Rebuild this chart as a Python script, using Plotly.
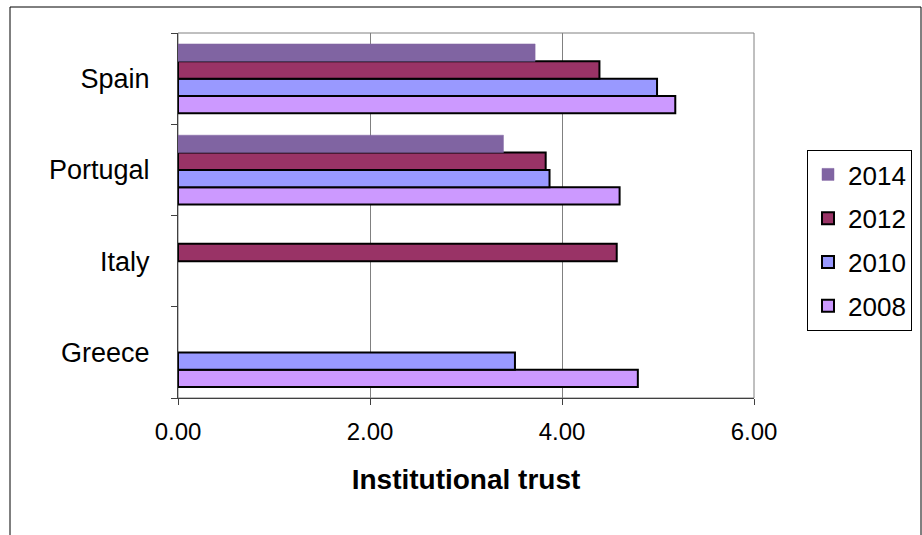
import plotly.graph_objects as go

categories = ["Greece", "Italy", "Portugal", "Spain"]
years = ["2008", "2010", "2012", "2014"]
v2008 = [4.79, None, 4.60, 5.18]
v2010 = [3.51, None, 3.87, 4.99]
v2012 = [None, 4.57, 3.83, 4.39]
v2014 = [None, None, 3.39, 3.72]
series = [v2008, v2010, v2012, v2014]
fills = ["#CC99FF", "#9999FF", "#993366", "#8064A2"]
outlines = ["#000000", "#000000", "#000000", "#8064A2"]
outline_w = [2, 2, 2, 0.5]
ranks = [4, 3, 2, 1]

FONT = "Liberation Sans, Arial, sans-serif"

fig = go.Figure()
for yr, vals, fc, lc, lw, rk in zip(years, series, fills, outlines, outline_w, ranks):
    fig.add_trace(go.Bar(
        y=categories, x=vals, name=yr, orientation="h",
        marker=dict(color=fc, line=dict(color=lc, width=lw)),
        legendgroup=yr, legendrank=rk,
    ))

W, H = 922, 535
L, R, T, B = 178, 168, 33, 137
pw, ph = W - L - R, H - T - B

fig.update_layout(
    width=W, height=H,
    margin=dict(l=L, r=R, t=T, b=B, pad=0, autoexpand=False),
    paper_bgcolor="white", plot_bgcolor="white",
    barmode="group", bargap=0.24, bargroupgap=0,
    font=dict(family=FONT, color="#000000", size=24),
    showlegend=True,
    legend=dict(
        x=(807 - L) / pw, y=(H - 150 - B) / ph, xanchor="left", yanchor="top",
        bordercolor="#000000", borderwidth=1, bgcolor="white",
        font=dict(size=26, family=FONT),
        traceorder="grouped", tracegroupgap=7,
        itemwidth=30,
    ),
    xaxis=dict(
        range=[0, 6], dtick=2, tickformat=".2f",
        showgrid=True, gridcolor="#808080", gridwidth=1,
        showline=True, linecolor="#404040", linewidth=1,
        ticks="outside", ticklen=6, tickcolor="#404040",
        tickfont=dict(size=24, family=FONT), ticklabelstandoff=6,
        title=dict(text="<b>Institutional trust</b>", font=dict(size=28, family=FONT), standoff=25),
        zeroline=False, automargin=False,
    ),
    yaxis=dict(
        categoryorder="array", categoryarray=categories,
        showline=True, linecolor="#404040", linewidth=1,
        ticks="outside", ticklen=6, tickcolor="#404040", tickson="boundaries",
        tickfont=dict(size=27, family=FONT), ticklabelstandoff=22,
        showgrid=False, automargin=False,
    ),
    shapes=[
        dict(type="rect", xref="x domain", yref="y domain", x0=0, x1=1, y0=0, y1=1,
             line=dict(color="#808080", width=1), layer="below"),
        dict(type="rect", xref="paper", yref="paper",
             x0=(10 - L) / pw, x1=(921 - L) / pw, y0=(H - 545 - B) / ph, y1=(H - 7 - B) / ph,
             line=dict(color="#000000", width=1)),
    ],
)

fig.write_html("out.html", config={"displayModeBar": False},
               post_script="document.body.style.margin='0';document.body.style.padding='0';")
